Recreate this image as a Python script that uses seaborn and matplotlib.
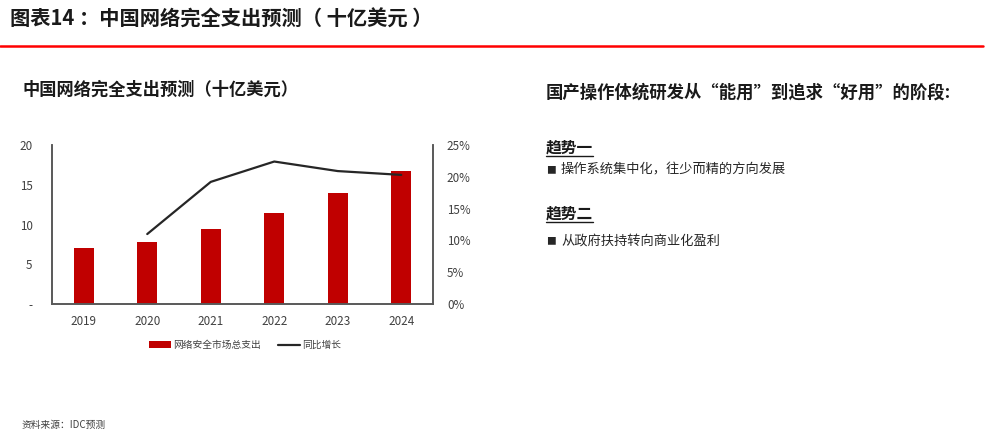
import numpy as np
import pandas as pd
import matplotlib
matplotlib.use("Agg")
import matplotlib.pyplot as plt
from matplotlib.lines import Line2D
from matplotlib.patches import Patch
from matplotlib.ticker import FuncFormatter, PercentFormatter
import seaborn as sns

# ---- data ----
years = ["2019", "2020", "2021", "2022", "2023", "2024"]
spending = [7.1, 7.85, 9.4, 11.5, 13.9, 16.7]          # 十亿美元
growth = [np.nan, 0.11, 0.192, 0.224, 0.209, 0.203]     # 同比增长
left_ticks = [0, 5, 10, 15, 20]
right_ticks = [0, 0.05, 0.10, 0.15, 0.20, 0.25]

bar_label = "网络安全市场总支出"
line_label = "同比增长"
main_title = "图表14 ：中国网络完全支出预测（ 十亿美元 ）"
sub_title = "中国网络完全支出预测（十亿美元）"
right_title = "国产操作体统研发从“能用”到追求“好用”的阶段:"
trend1 = "趋势一"
trend1_text = "操作系统集中化，往少而精的方向发展"
trend2 = "趋势二"
trend2_text = "从政府扶持转向商业化盈利"
bullet = "■"
source = "资料来源：IDC预测"

sns.set_theme(style="white")
plt.rcParams["font.family"] = ["Noto Sans CJK SC", "DejaVu Sans"]

W, H = 1000, 436
fig = plt.figure(figsize=(W / 100, H / 100), dpi=100)

def fx(px):
    return px / W

def fy(py):
    return 1 - py / H

ax = fig.add_axes([fx(52), fy(304), fx(433 - 52), (304 - 145) / H])
df = pd.DataFrame({"year": years, "spending": spending, "growth": growth})

bar_color = "#C00000"
sns.barplot(data=df, x="year", y="spending", color=bar_color, width=0.31,
            saturation=1, ax=ax, edgecolor="none")
ax.set_xlim(-0.5, len(years) - 0.5)
ax.set_ylim(0, 20)
ax.set_yticks(left_ticks)
ax.yaxis.set_major_formatter(FuncFormatter(lambda v, p: "-" if v == 0 else f"{v:.0f}"))
ax.set_xlabel("")
ax.set_ylabel("")

ax2 = ax.twinx()
pos = np.arange(len(years))
line_df = pd.DataFrame({"pos": pos, "growth": growth}).dropna()
sns.lineplot(data=line_df, x="pos", y="growth", color="#262626", linewidth=1.6, ax=ax2)
ax2.set_ylim(0, 0.25)
ax2.set_yticks(right_ticks)
ax2.yaxis.set_major_formatter(PercentFormatter(1.0, decimals=0))
ax2.set_xlim(-0.5, len(years) - 0.5)
ax2.set_xlabel("")
ax2.set_ylabel("")

spine_c = "#595959"
for a in (ax, ax2):
    a.spines["top"].set_visible(False)
    a.grid(False)
    for s in ("left", "right", "bottom"):
        a.spines[s].set_color(spine_c)
        a.spines[s].set_linewidth(1.2)
    a.tick_params(length=0, labelsize=8.4, colors="#404040")
ax.tick_params(axis="y", pad=14)
ax.tick_params(axis="x", pad=8)
ax2.tick_params(axis="y", pad=10)

# legend
handles = [Patch(facecolor=bar_color, edgecolor="none"),
           Line2D([0], [0], color="#262626", linewidth=1.6)]
fig.legend(handles, [bar_label, line_label], loc="center",
           bbox_to_anchor=(fx(245), fy(345)), ncol=2, frameon=False,
           fontsize=7, handlelength=2.3, handleheight=0.6, handletextpad=0.15,
           columnspacing=1.8, labelcolor="#404040")

# header
fig.text(fx(10), fy(19), main_title, fontsize=14.6, fontweight="bold",
         color="#1a1a1a", va="center", ha="left")
fig.add_artist(Line2D([0, fx(983)], [fy(46), fy(46)], color="#FF0000", linewidth=1.8))

fig.text(fx(22), fy(90), sub_title, fontsize=12.4, fontweight="bold",
         color="#1a1a1a", va="center", ha="left")

# right text panel
fig.text(fx(546), fy(93), right_title, fontsize=12.5, fontweight="bold",
         color="#1a1a1a", va="center", ha="left")
fig.text(fx(546), fy(148), trend1, fontsize=11.3, fontweight="bold",
         color="#1a1a1a", va="center", ha="left")
fig.add_artist(Line2D([fx(546), fx(593)], [fy(156), fy(156)], color="#1a1a1a", linewidth=1.0))
fig.text(fx(546), fy(170), bullet, fontsize=7, color="#262626", va="center", ha="left")
fig.text(fx(561), fy(170), trend1_text, fontsize=9.5, color="#262626",
         va="center", ha="left")
fig.text(fx(546), fy(214), trend2, fontsize=11.3, fontweight="bold",
         color="#1a1a1a", va="center", ha="left")
fig.add_artist(Line2D([fx(546), fx(593)], [fy(222), fy(222)], color="#1a1a1a", linewidth=1.0))
fig.text(fx(546), fy(241), bullet, fontsize=7, color="#262626", va="center", ha="left")
fig.text(fx(561), fy(241), trend2_text, fontsize=9.5, color="#262626",
         va="center", ha="left")

fig.text(fx(22), fy(425), source, fontsize=7, color="#404040", va="center", ha="left")

fig.savefig("out.png", dpi=100, facecolor="white")
